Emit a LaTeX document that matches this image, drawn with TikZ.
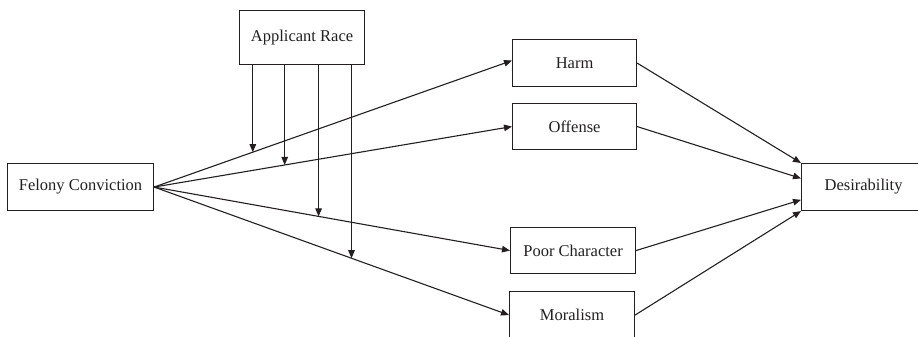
\documentclass[tikz,border=0pt]{standalone}
\usepackage{fontspec}
\setmainfont{Liberation Serif}
\usetikzlibrary{arrows.meta,calc}
\definecolor{ink}{HTML}{231F20}
\tikzset{
  box/.style={draw=ink, line width=1.1pt, rectangle, inner sep=0pt, anchor=north west,
    text=ink, font=\fontsize{16.5}{19}\selectfont, align=center},
  arr/.style={draw=ink, line width=1.1pt, -{Triangle[length=8pt,width=6.5pt]}},
}
\begin{document}
\begin{tikzpicture}[x=1pt,y=-1pt]
\useasboundingbox (0,0) rectangle (918,337);
\begin{scope}
\clip (0,0) rectangle (918,337);
\node[box, minimum width=146pt, minimum height=47pt] (fc) at (7,163) {Felony Conviction};
\node[box, minimum width=125pt, minimum height=54pt] (race) at (239,10) {Applicant Race};
\node[box, minimum width=124pt, minimum height=47pt] (harm) at (512,39) {Harm};
\node[box, minimum width=124pt, minimum height=46pt] (off) at (512,103) {Offense};
\node[box, minimum width=125pt, minimum height=46pt] (pc) at (510,227) {Poor Character};
\node[box, minimum width=125pt, minimum height=47pt] (mor) at (509,291) {Moralism};
\node[box, minimum width=124pt, minimum height=47pt] (des) at (801,163) {Desirability};

\draw[arr] (fc.east) -- coordinate[pos=0.2758] (p1) ([yshift=2.5pt]harm.west);
\draw[arr] (fc.east) -- coordinate[pos=0.3649] (p2) (off.west);
\draw[arr] (fc.east) -- coordinate[pos=0.4622] (p3) (pc.west);
\draw[arr] (fc.east) -- coordinate[pos=0.5562] (p4) (mor.west);

\draw[arr] (p1 |- race.south) -- (p1);
\draw[arr] (p2 |- race.south) -- (p2);
\draw[arr] (p3 |- race.south) -- (p3);
\draw[arr] (p4 |- race.south) -- (p4);

\coordinate (d2) at ($(des.north west)!0.32!(des.south west)$);
\coordinate (d3) at ($(des.north west)!0.766!(des.south west)$);
\draw[arr] (harm.east) -- (des.north west);
\draw[arr] (off.east) -- (d2);
\draw[arr] (pc.east) -- (d3);
\draw[arr] (mor.east) -- (des.south west);
\end{scope}
\end{tikzpicture}
\end{document}
